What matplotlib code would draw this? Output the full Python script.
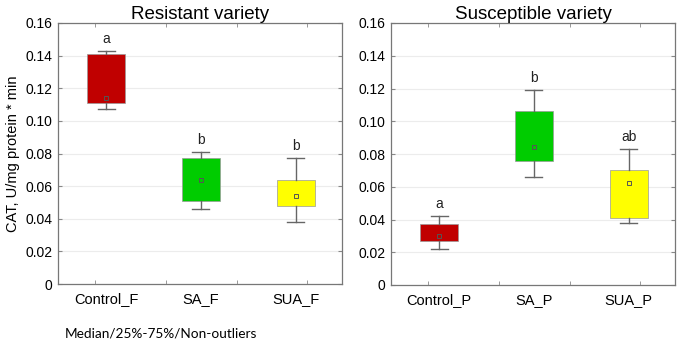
import numpy as np
import matplotlib
matplotlib.use('Agg')
import matplotlib.pyplot as plt
from matplotlib.ticker import FixedLocator, FuncFormatter

# データ
res_labels = ['Control_F', 'SA_F', 'SUA_F']
res_whislo = [0.107, 0.046, 0.038]
res_q1 = [0.111, 0.051, 0.048]
res_med = [0.114, 0.064, 0.054]
res_q3 = [0.141, 0.077, 0.064]
res_whishi = [0.143, 0.081, 0.077]
res_letters = ['a', 'b', 'b']

sus_labels = ['Control_P', 'SA_P', 'SUA_P']
sus_whislo = [0.022, 0.066, 0.038]
sus_q1 = [0.027, 0.076, 0.041]
sus_med = [0.030, 0.084, 0.062]
sus_q3 = [0.037, 0.106, 0.070]
sus_whishi = [0.042, 0.119, 0.083]
sus_letters = ['a', 'b', 'ab']

box_colors = ['#c00000', '#00cc00', '#ffff00']

plt.rcParams['font.family'] = ['Liberation Sans', 'DejaVu Sans']

fig = plt.figure(figsize=(6.85, 3.41), dpi=100)
ax1 = fig.add_axes([58 / 685, 57 / 341, 284 / 685, 261 / 341])
ax2 = fig.add_axes([391 / 685, 56 / 341, 284 / 685, 262 / 341])


def draw_panel(ax, labels, whislo, q1, med, q3, whishi, letters, title):
    stats = []
    for i in range(len(labels)):
        stats.append({'whislo': whislo[i], 'q1': q1[i], 'med': med[i],
                      'q3': q3[i], 'whishi': whishi[i], 'label': labels[i],
                      'fliers': []})
    pos = np.arange(1, len(labels) + 1)
    bp = ax.bxp(stats, positions=pos, widths=0.4, capwidths=0.18,
                patch_artist=True, showfliers=False,
                boxprops=dict(linewidth=0.5, edgecolor='#9a9a9a'),
                whiskerprops=dict(color='#666666', linewidth=1),
                capprops=dict(color='#666666', linewidth=1),
                medianprops=dict(linewidth=0))
    for patch, c in zip(bp['boxes'], box_colors):
        patch.set_facecolor(c)
    # 中央値マーカー（小さい四角）
    for i, m in enumerate(med):
        ax.plot(pos[i], m, marker='s', markersize=3.5, markerfacecolor='none',
                markeredgecolor='#555555', markeredgewidth=0.7, zorder=5)
    # 有意差の文字
    for i, t in enumerate(letters):
        ax.text(pos[i], whishi[i] + 0.003, t, ha='center', va='bottom',
                fontsize=10, color='#222222')

    ax.set_xlim(0.49, 3.49)
    ax.set_ylim(0, 0.16)
    ax.set_yticks(np.arange(0, 0.161, 0.02))
    ax.yaxis.set_major_formatter(FuncFormatter(lambda v, p: '0' if v == 0 else f'{v:.2f}'))
    ax.set_xticks(pos)
    ax.set_xticklabels(labels)
    ax.xaxis.set_minor_locator(FixedLocator([0.88, 1.63, 2.38, 3.12]))
    ax.tick_params(axis='x', which='major', length=0, labelsize=10.5, pad=6)
    ax.tick_params(axis='x', which='minor', direction='in', length=3,
                   top=True, bottom=True, color='#888888')
    ax.tick_params(axis='y', direction='in', length=3, right=True,
                   labelsize=10, color='#888888', pad=4)
    ax.grid(axis='y', color='#ececec', linewidth=0.8)
    ax.set_axisbelow(True)
    for s in ax.spines.values():
        s.set_color('#777777')
        s.set_linewidth(0.9)
    ax.set_title(title, fontsize=13.5, pad=3)


draw_panel(ax1, res_labels, res_whislo, res_q1, res_med, res_q3, res_whishi,
           res_letters, 'Resistant variety')
draw_panel(ax2, sus_labels, sus_whislo, sus_q1, sus_med, sus_q3, sus_whishi,
           sus_letters, 'Susceptible variety')

ax1.set_ylabel('CAT, U/mg protein * min', fontsize=10.5, labelpad=4)

fig.text(65 / 685, 1 - 333 / 341, 'Median/25%-75%/Non-outliers',
         fontsize=9.8, va='center', ha='left', family=['Lato', 'DejaVu Sans'])

fig.savefig('out.png', dpi=100)
